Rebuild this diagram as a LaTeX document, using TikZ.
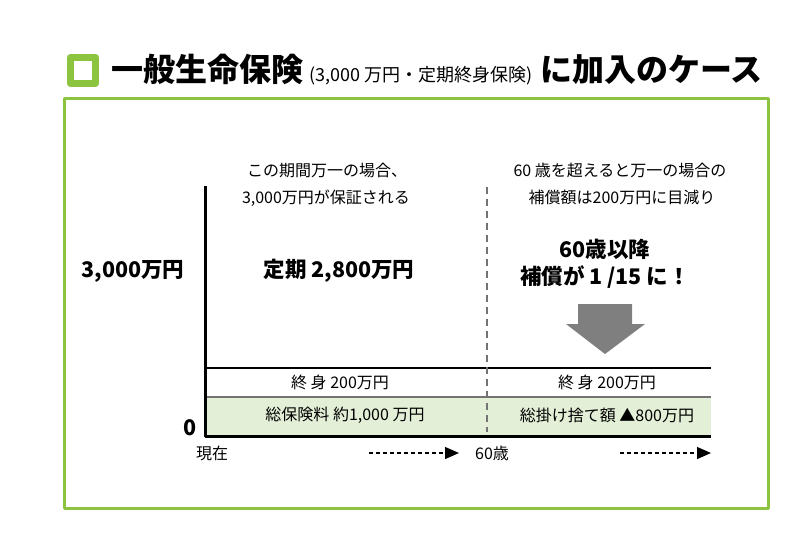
\documentclass[tikz,border=0pt]{standalone}
\usepackage{fontspec}
\setmainfont{Noto Sans CJK JP}
\usetikzlibrary{arrows.meta}
\definecolor{framegreen}{HTML}{8CC33F}
\definecolor{bandgreen}{HTML}{E3EFD6}
\definecolor{arrowgray}{HTML}{7F7F7F}
\tikzset{
  txt/.style={font=\fontsize{16}{16}\selectfont, inner sep=0pt},
  bigtxt/.style={font=\fontsize{21.5}{27}\selectfont\bfseries, inner sep=0pt, align=center},
  flow/.style={dashed, dash pattern=on 4pt off 3pt, line width=1.2pt, -{Triangle[length=14pt,width=12pt]}}
}
\begin{document}
\begin{tikzpicture}[x=1pt, y=-1pt, line join=round]
				\useasboundingbox (0,0) rectangle (799,539);
				\path
				(205,186) coordinate (T)
				(205,436) coordinate (O)
				(711,436) coordinate (E)
				(205,368) coordinate (A)
				(711,368) coordinate (A')
				(205,397) coordinate (B)
				(711,397) coordinate (B')
				(487,187) coordinate (S)
				(487,432) coordinate (S')
				(369,453) coordinate (P)
				(459,453) coordinate (P')
				(620,453) coordinate (Q)
				(711,453) coordinate (Q')
				;
				% frame and title
				\draw[framegreen, line width=3pt] (64,98) rectangle (768,508);
				\draw[framegreen, line width=7pt] (70.5,57.5) rectangle (95.5,83.5);
				\node[anchor=base west, inner sep=0pt] (title) at (111,81)
				{\fontsize{32}{32}\selectfont\bfseries 一般生命保険\hspace{6pt}{\fontsize{18}{18}\selectfont\mdseries (3,000 万円・定期終身保険)}\hspace{8pt}に加入のケース};
				
				% bands
				\fill[bandgreen] (B) rectangle (E);
				\draw[line width=1.2pt, black!55] (B)--(B');
				\draw[line width=1.2pt] (A)--(A');
				\draw[black!55, line width=1.2pt, dash pattern=on 7pt off 5pt] (S)--(S');
				\draw[line width=3pt] (T)--(O)--(E);
				
				% texts
				\node[txt] (t1) at (327,170) {この期間万一の場合、};
				\node[txt] (t2) at (326,198) {3,000万円が保証される};
				\node[txt] (t3) at (620,170) {60 歳を超えると万一の場合の};
				\node[txt] (t4) at (622,197) {補償額は200万円に目減り};
				\node[bigtxt] (v) at (133,271) {3,000万円};
				\node[bigtxt] (teiki) at (339,271) {定期 2,800万円};
				\node[bigtxt] (after) at (605,264) {60歳以降\\補償が 1 /15 に！};
				\node[txt] (s1) at (340,382) {終 身 200万円};
				\node[txt] (s2) at (607,382) {終 身 200万円};
				\node[txt] (p1) at (345,415) {総保険料 約1,000 万円};
				\node[txt] (p2) at (607,415) {総掛け捨て額 ▲800万円};
				\node[bigtxt] (zero) at (190,428) {0};
				\node[txt] (now) at (212,453) {現在};
				\node[txt] (age) at (492,453) {60歳};
				
				% arrows
				\fill[arrowgray] (578,304) -- (632,304) -- (632,324) -- (645,324) -- (605,354) -- (566,324) -- (578,324) -- cycle;
				\draw[flow] (P)--(P');
				\draw[flow] (Q)--(Q');
\end{tikzpicture}
\end{document}
